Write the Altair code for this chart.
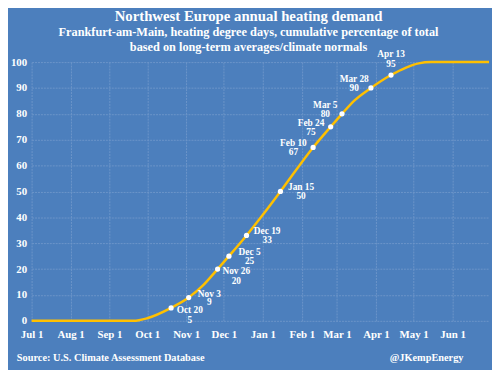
import altair as alt
import pandas as pd

# ---- data ----
curve_dates = ["2018-07-01", "2018-09-20", "2018-10-01", "2018-10-20", "2018-11-03",
               "2018-11-15", "2018-11-26", "2018-12-05", "2018-12-19", "2019-01-01",
               "2019-01-15", "2019-02-10", "2019-02-24", "2019-03-05", "2019-03-15",
               "2019-03-28", "2019-04-13", "2019-04-25", "2019-05-05", "2019-05-15",
               "2019-06-30"]
curve_values = [0, 0, 1, 5, 9, 14, 20, 25, 33, 41, 50, 67, 75, 80, 85.2, 90, 95,
                97.9, 99.5, 100, 100]

label_dates = ["2018-10-20", "2018-11-03", "2018-11-26", "2018-12-05", "2018-12-19",
               "2019-01-15", "2019-02-10", "2019-02-24", "2019-03-05", "2019-03-28",
               "2019-04-13"]
label_names = ["Oct 20", "Nov 3", "Nov 26", "Dec 5", "Dec 19", "Jan 15", "Feb 10",
               "Feb 24", "Mar 5", "Mar 28", "Apr 13"]
label_values = [5, 9, 20, 25, 33, 50, 67, 75, 80, 90, 95]

tick_dates = ["2018-07-01", "2018-08-01", "2018-09-01", "2018-10-01", "2018-11-01",
              "2018-12-01", "2019-01-01", "2019-02-01", "2019-03-01", "2019-04-01",
              "2019-05-01", "2019-06-01"]
y_ticks = [0, 10, 20, 30, 40, 50, 60, 70, 80, 90, 100]

title = "Northwest Europe annual heating demand"
subtitle = ["Frankfurt-am-Main, heating degree days, cumulative percentage of  total",
            "based on long-term averages/climate normals"]
source = "Source: U.S. Climate Assessment Database"
handle = "@JKempEnergy"

# ---- styling ----
BG = "#4c7fbd"
GRID = "#6c95c9"
LINE = "#FFC000"
FONT = "Liberation Serif"
WHITE = "#ffffff"

# label placement groups: (dx, dy of date line, dy of value line)
placements = {
    "rightlow": (19, 2, 12),
    "right": (21, -4, 5),
    "left": (-20, -4, 5),
    "upleft": (-17, -9, 0),
    "top": (0, -21, -11),
}
placement_of = {"Oct 20": "rightlow", "Nov 26": "rightlow",
                "Nov 3": "right", "Dec 5": "right", "Dec 19": "right", "Jan 15": "right",
                "Feb 10": "left", "Feb 24": "left",
                "Mar 5": "upleft", "Mar 28": "upleft",
                "Apr 13": "top"}

curve = pd.DataFrame({"date": curve_dates, "value": curve_values})
labels = pd.DataFrame({"date": label_dates, "name": label_names, "value": label_values})
labels["val"] = labels["value"].astype(str)
labels["side"] = labels["name"].map(placement_of)

tick_vals = [alt.DateTime(year=int(t[:4]), month=int(t[5:7]), date=int(t[8:10]), utc=True)
             for t in tick_dates]

x_enc = alt.X("date:T",
              scale=alt.Scale(type="utc",
                              domain=[alt.DateTime(year=2018, month=7, date=1, utc=True),
                                      alt.DateTime(year=2019, month=6, date=30, utc=True)]),
              axis=alt.Axis(values=tick_vals, labelExpr="utcFormat(datum.value, '%b %-d')",
                            title=None, domain=False, ticks=False, labelPadding=8,
                            labelFont=FONT, labelFontSize=11, labelFontWeight="bold",
                            labelColor=WHITE, grid=True, gridColor=GRID, gridWidth=1,
                            gridDash=[2, 1], labelFlush=False, labelOverlap=False))
y_enc = alt.Y("value:Q", scale=alt.Scale(domain=[0, 100]),
              axis=alt.Axis(values=y_ticks, title=None, domain=False, ticks=False,
                            labelPadding=5, labelFont=FONT, labelFontSize=11,
                            labelFontWeight="bold", labelColor=WHITE, grid=True,
                            gridColor=GRID, gridWidth=1, gridDash=[2, 1]))

line = alt.Chart(curve).mark_line(color=LINE, strokeWidth=2.5, interpolate="monotone").encode(
    x=x_enc, y=y_enc)

pts = alt.Chart(labels).mark_point(filled=True, color=WHITE, size=28, opacity=1).encode(
    x=x_enc, y=y_enc)

text_layers = []
for side, (dx, dy1, dy2) in placements.items():
    src = alt.Chart(labels).transform_filter(alt.datum.side == side)
    common = dict(font=FONT, fontSize=9.5, fontWeight="bold", color=WHITE,
                  align="center", baseline="middle", dx=dx)
    text_layers.append(src.mark_text(dy=dy1, **common).encode(
        x=x_enc, y=y_enc, text="name:N"))
    text_layers.append(src.mark_text(dy=dy2, **common).encode(
        x=x_enc, y=y_enc, text="val:N"))

note_data = alt.Data(values=[{"s": source, "h": handle}])
src_text = alt.Chart(note_data).mark_text(font=FONT, fontSize=10.5, fontWeight="bold",
                                          color=WHITE, align="left", baseline="middle").encode(
    x=alt.value(-15), y=alt.value(301), text="s:N")
handle_text = alt.Chart(note_data).mark_text(font=FONT, fontSize=10.5, fontWeight="bold",
                                             color=WHITE, align="right", baseline="middle").encode(
    x=alt.value(439), y=alt.value(301), text="h:N")

chart = alt.layer(line, pts, *text_layers, src_text, handle_text).properties(
    width=465, height=263,
    autosize=alt.AutoSizeParams(type="none"),
    padding={"left": 24, "top": 52, "right": 3, "bottom": 47},
    background=BG,
    title=alt.Title(text=title, subtitle=subtitle, anchor="middle", frame="group", dx=-12,
                    font=FONT, fontSize=15, fontWeight="bold", color=WHITE,
                    subtitleFont=FONT, subtitleFontSize=12.5, subtitleFontWeight="bold",
                    subtitleColor=WHITE, subtitlePadding=2, subtitleLineHeight=15,
                    offset=-4),
).configure_view(stroke=None)

chart.save("out.html", embed_options={"renderer": "svg", "actions": False})
